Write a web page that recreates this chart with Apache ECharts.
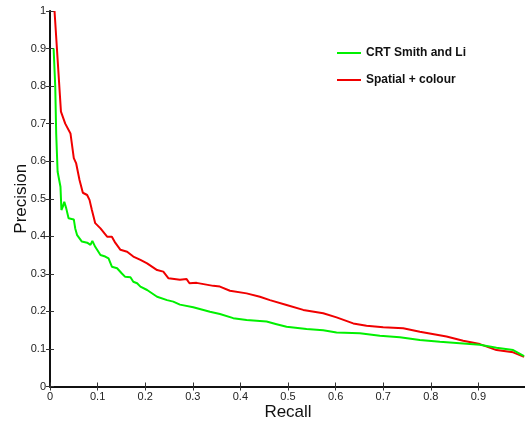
<!DOCTYPE html>
<html>
<head>
<meta charset="utf-8">
<script src="https://cdn.jsdelivr.net/npm/echarts@6/dist/echarts.min.js"></script>
<style>
html, body { margin: 0; padding: 0; background: #fff; }
#chart { width: 525px; height: 428px; }
</style>
</head>
<body>
<div id="chart"></div>
<script>
// series names
var seriesNames = ['CRT Smith and Li', 'Spatial + colour'];

// CRT Smith and Li (green)
var greenRecall = [0.0076, 0.011, 0.013, 0.016, 0.022, 0.024, 0.027, 0.030, 0.034, 0.039, 0.05, 0.053, 0.057, 0.067, 0.078, 0.085, 0.089, 0.095, 0.106, 0.116, 0.123, 0.13, 0.141, 0.151, 0.158, 0.169, 0.175, 0.183, 0.19, 0.204, 0.225, 0.246, 0.259, 0.273, 0.301, 0.336, 0.357, 0.385, 0.413, 0.455, 0.476, 0.497, 0.539, 0.574, 0.602, 0.651, 0.693, 0.735, 0.777, 0.819, 0.861, 0.903, 0.938, 0.973, 0.996];
var greenPrecision = [0.90, 0.80, 0.674, 0.572, 0.532, 0.47, 0.479, 0.492, 0.475, 0.448, 0.445, 0.421, 0.403, 0.386, 0.383, 0.377, 0.388, 0.372, 0.35, 0.346, 0.341, 0.319, 0.315, 0.301, 0.292, 0.291, 0.279, 0.275, 0.266, 0.257, 0.239, 0.23, 0.226, 0.218, 0.211, 0.199, 0.193, 0.182, 0.177, 0.173, 0.166, 0.159, 0.153, 0.15, 0.144, 0.142, 0.135, 0.131, 0.124, 0.119, 0.115, 0.111, 0.103, 0.097, 0.081];

// Spatial + colour (red)
var redRecall = [0.0095, 0.023, 0.032, 0.043, 0.05, 0.055, 0.062, 0.069, 0.078, 0.083, 0.088, 0.095, 0.106, 0.12, 0.13, 0.137, 0.148, 0.162, 0.175, 0.19, 0.204, 0.225, 0.238, 0.249, 0.273, 0.287, 0.293, 0.308, 0.343, 0.357, 0.378, 0.413, 0.441, 0.462, 0.497, 0.532, 0.574, 0.602, 0.637, 0.665, 0.70, 0.742, 0.777, 0.833, 0.868, 0.903, 0.938, 0.973, 0.996];
var redPrecision = [1.0, 0.732, 0.70, 0.674, 0.608, 0.594, 0.55, 0.516, 0.51, 0.497, 0.47, 0.435, 0.421, 0.399, 0.399, 0.383, 0.364, 0.359, 0.346, 0.337, 0.328, 0.31, 0.306, 0.288, 0.284, 0.286, 0.275, 0.276, 0.268, 0.266, 0.255, 0.248, 0.239, 0.23, 0.217, 0.204, 0.195, 0.184, 0.168, 0.162, 0.158, 0.155, 0.146, 0.133, 0.122, 0.113, 0.097, 0.091, 0.079];

function pairs(xs, ys) {
    return xs.map(function (x, i) { return [x, ys[i]]; });
}

var labelFont = { fontFamily: 'Liberation Sans, Arial, sans-serif', fontSize: 11, color: '#222' };

function tickLabel(v) {
    var r = Math.round(v * 10) / 10;
    if (Math.abs(r - v) > 1e-6) return '';
    return String(r);
}

var chart = echarts.init(document.getElementById('chart'));

chart.setOption({
    animation: false,
    backgroundColor: '#fff',
    grid: { left: 50, right: -1, top: 11, bottom: 41.5, containLabel: false, outerBoundsMode: 'none' },
    legend: {
        data: seriesNames,
        orient: 'vertical',
        left: 332,
        top: 42,
        icon: 'rect',
        itemWidth: 24,
        itemHeight: 2,
        itemGap: 15,
        textStyle: { fontFamily: 'Liberation Sans, Arial, sans-serif', fontSize: 12, fontWeight: 'bold', color: '#111' }
    },
    xAxis: [{
        type: 'value', min: 0, max: 1, interval: 0.1,
        name: 'Recall', nameLocation: 'middle', nameGap: 17, nameMoveOverlap: false,
        nameTextStyle: { fontFamily: 'Liberation Sans, Arial, sans-serif', fontSize: 17, color: '#111' },
        axisLine: { lineStyle: { color: '#111', width: 2 } },
        axisTick: { inside: true, length: 4, lineStyle: { color: '#333' } },
        axisLabel: Object.assign({ margin: 5, showMaxLabel: false, formatter: tickLabel }, labelFont),
        splitLine: { show: false }
    }, {
        type: 'value', min: 0, max: 1, interval: 0.1, position: 'top',
        axisLine: { lineStyle: { color: '#111', width: 1 } },
        axisTick: { inside: true, length: 4, lineStyle: { color: '#333' } },
        axisLabel: { show: false },
        splitLine: { show: false }
    }],
    yAxis: [{
        type: 'value', min: 0, max: 1, interval: 0.1,
        name: 'Precision', nameLocation: 'middle', nameGap: 20, nameMoveOverlap: false,
        nameTextStyle: { fontFamily: 'Liberation Sans, Arial, sans-serif', fontSize: 17, color: '#111' },
        axisLine: { lineStyle: { color: '#111', width: 2 } },
        axisTick: { inside: true, length: 4, lineStyle: { color: '#333' } },
        axisLabel: Object.assign({ margin: 4, formatter: tickLabel }, labelFont),
        splitLine: { show: false }
    }, {
        type: 'value', min: 0, max: 1, interval: 0.1, position: 'right',
        axisLine: { show: true, lineStyle: { color: '#111', width: 1 } },
        axisTick: { inside: true, length: 4, lineStyle: { color: '#333' } },
        axisLabel: { show: false },
        splitLine: { show: false }
    }],
    series: [{
        name: seriesNames[0],
        type: 'line',
        data: pairs(greenRecall, greenPrecision),
        showSymbol: false,
        z: 3,
        itemStyle: { color: '#00f000' },
        lineStyle: { color: '#00f000', width: 2 }
    }, {
        name: seriesNames[1],
        type: 'line',
        data: pairs(redRecall, redPrecision),
        showSymbol: false,
        z: 2,
        itemStyle: { color: '#f00000' },
        lineStyle: { color: '#f00000', width: 2 }
    }]
});

window.addEventListener('resize', function () {
    chart.resize();
});
</script>
</body>
</html>
